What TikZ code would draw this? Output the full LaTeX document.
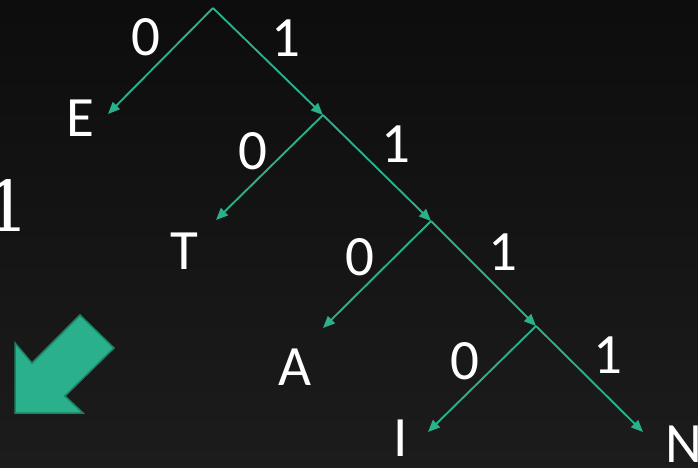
\documentclass[tikz,border=0pt]{standalone}
\usepackage{fontspec}
\newfontfamily\slidefont{Carlito}
\newfontfamily\serifone{DejaVu Serif}
\usepackage{tikz}
\usetikzlibrary{arrows.meta}
\definecolor{treegreen}{RGB}{43,176,140}
\definecolor{treegreendark}{RGB}{29,128,101}

\begin{document}
\begin{tikzpicture}[x=1pt, y=-1pt,
    edge/.style={treegreen, line width=1.9pt, -{Triangle[length=12pt, width=10pt]}},
    bit/.style={text=white, inner sep=0pt, font=\slidefont\fontsize{57}{57}\selectfont},
    leaf/.style={text=white, inner sep=0pt, font=\slidefont\fontsize{57}{57}\selectfont},
    blockarrow/.style={fill=treegreen, draw=treegreendark, line width=1.5pt, line join=miter}]
    % background
    \shade[top color=black!95, bottom color=black!89] (0,0) rectangle (698,467);
    \useasboundingbox (0,0) rectangle (698,467);
    % branch points
    \coordinate (r) at (213,8);
    \coordinate (n1) at (323,115);
    \coordinate (n2) at (431,221);
    \coordinate (n3) at (536,326);
    % arrow ends at the leaves
    \coordinate (tE) at (108,114);
    \coordinate (tT) at (216,220);
    \coordinate (tA) at (323,328);
    \coordinate (tI) at (428,432);
    \coordinate (tN) at (643,432);
    % leaves
    \node[leaf] (E) at (80,118) {E};
    \node[leaf] (T) at (184,251) {T};
    \node[leaf] (A) at (295,367) {A};
    \node[leaf] (I) at (401,438) {I};
    \node[leaf] (N) at (684,444) {N};
    % edges
    \draw[edge] (r) -- (tE);  \draw[edge] (r) -- (n1);
    \draw[edge] (n1) -- (tT); \draw[edge] (n1) -- (n2);
    \draw[edge] (n2) -- (tA); \draw[edge] (n2) -- (n3);
    \draw[edge] (n3) -- (tI); \draw[edge] (n3) -- (tN);
    % edge labels
    \node[bit] (b0) at (146,37) {0};  \node[bit] (b1) at (286,38) {1};
    \node[bit] (b10) at (253,151) {0}; \node[bit] (b11) at (396,144) {1};
    \node[bit] (b110) at (360,257) {0}; \node[bit] (b111) at (503,252) {1};
    \node[bit] (b1110) at (465,361) {0}; \node[bit] (b1111) at (608,355) {1};
    % cut-off one at the left edge
    \node[text=white, inner sep=0pt, font=\serifone\fontsize{70}{70}\selectfont] (one) at (8,206) {1};
    % block arrow
    \draw[blockarrow] (15,413) -- (15,343) -- (32,363) -- (80,315) -- (114,348) -- (65,396) -- (83,413) -- cycle;
\end{tikzpicture}
\end{document}
